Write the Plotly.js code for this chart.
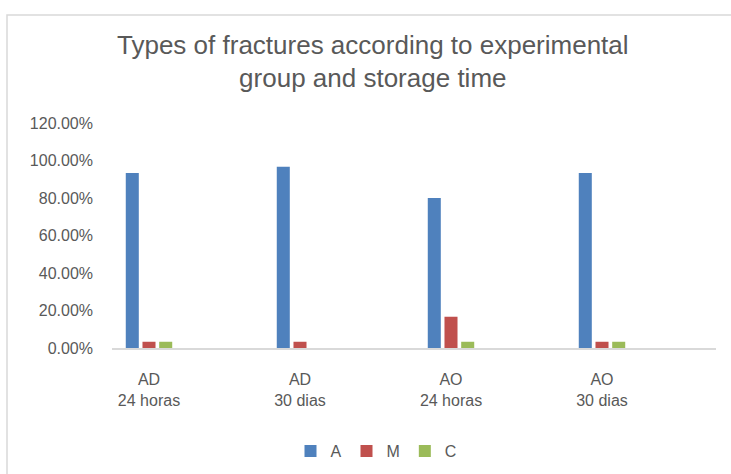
<!DOCTYPE html>
<html>
<head>
<meta charset="utf-8">
<script src="https://cdn.plot.ly/plotly-3.0.1.min.js"></script>
<style>html,body{margin:0;padding:0;background:#fff;}#chart{width:731px;height:474px;}</style>
</head>
<body>
<div id="chart"></div>
<script>
var categories = ["AD<br>24 horas", "AD<br>30 dias", "AO<br>24 horas", "AO<br>30 dias"];
var seriesNames = ["A", "M", "C"];
var valuesA = [0.9333, 0.9667, 0.8000, 0.9333];
var valuesM = [0.0333, 0.0333, 0.1667, 0.0333];
var valuesC = [0.0333, 0.0, 0.0333, 0.0333];
var yTicks = [0, 0.2, 0.4, 0.6, 0.8, 1.0, 1.2];
var colors = ["#4F81BD", "#C0504D", "#9BBB59"];

var positions = categories.map(function (c, i) { return i; });
var allValues = [valuesA, valuesM, valuesC];
var traces = allValues.map(function (vals, k) {
  return {
    type: "bar",
    name: seriesNames[k],
    x: positions,
    y: vals,
    marker: { color: colors[k] },
    hoverinfo: "y+name"
  };
});

var textColor = "#595959";
var layout = {
  width: 731,
  height: 474,
  margin: { l: 112, r: 15, t: 123, b: 126 },
  paper_bgcolor: "#ffffff",
  plot_bgcolor: "#ffffff",
  font: { family: "Liberation Sans, Arial, sans-serif", color: textColor, size: 16 },
  title: {
    text: "Types of fractures according to experimental<br>group and storage time",
    font: { family: "Liberation Sans, Arial, sans-serif", size: 26, color: textColor },
    xref: "container",
    x: 0.51,
    xanchor: "center",
    yref: "container",
    y: 0.887,
    yanchor: "top",
    automargin: false
  },
  barmode: "group",
  bargap: 0.668,
  bargroupgap: 0.22,
  xaxis: {
    range: [-0.245, 3.755],
    tickmode: "array",
    tickvals: positions,
    ticktext: categories,
    showgrid: false,
    zeroline: false,
    showline: true,
    linecolor: "#D9D9D9",
    linewidth: 2,
    ticks: "",
    ticklabelstandoff: 16,
    tickfont: { size: 16, color: textColor },
    automargin: false
  },
  yaxis: {
    range: [0, 1.2],
    tickmode: "array",
    tickvals: yTicks,
    tickformat: ".2%",
    showgrid: false,
    zeroline: false,
    showline: false,
    ticks: "",
    ticklabelstandoff: 18,
    tickfont: { size: 16, color: textColor },
    automargin: false
  },
  showlegend: true,
  legend: {
    orientation: "h",
    xref: "container",
    yref: "container",
    x: 376 / 731,
    xanchor: "center",
    y: 1 - 451 / 474,
    yanchor: "middle",
    font: { size: 16, color: textColor },
    itemwidth: 30,
    bgcolor: "rgba(0,0,0,0)"
  },
  shapes: [{
    type: "rect",
    xref: "paper",
    yref: "paper",
    x0: (7 - 112) / 604,
    x1: (745 - 112) / 604,
    y0: (348 - 490) / 225,
    y1: (348 - 15) / 225,
    line: { color: "#D9D9D9", width: 1.5 },
    fillcolor: "rgba(0,0,0,0)",
    layer: "below"
  }]
};

Plotly.newPlot("chart", traces, layout, { displayModeBar: false, staticPlot: true });
</script>
</body>
</html>
